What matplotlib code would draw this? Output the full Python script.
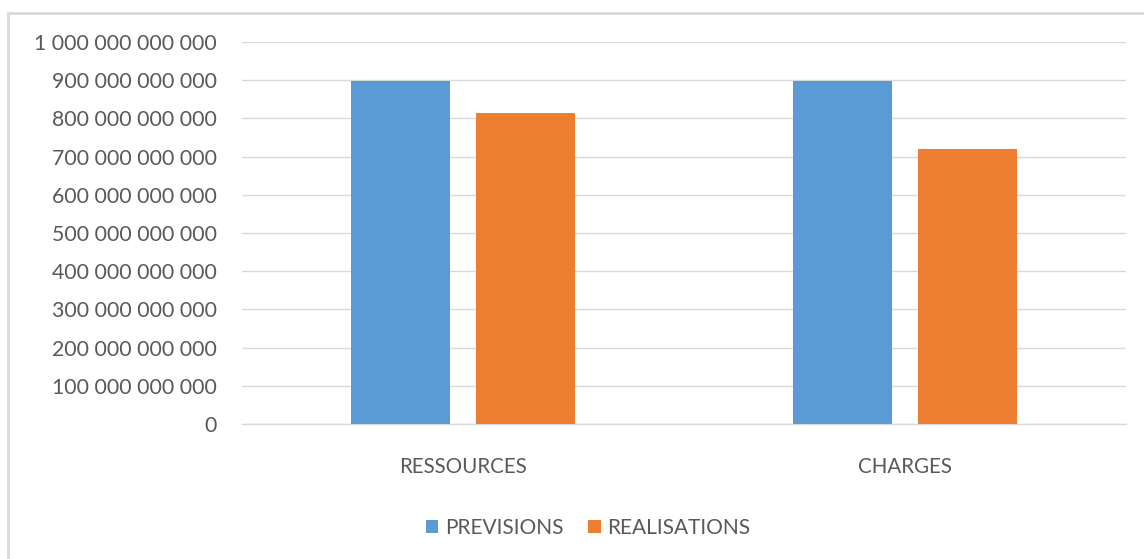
import matplotlib
matplotlib.use("Agg")
import matplotlib.pyplot as plt
import matplotlib.patches as patches
from matplotlib.ticker import FuncFormatter
import numpy as np

categories = ["RESSOURCES", "CHARGES"]
previsions = [898e9, 898e9]
realisations = [813e9, 719e9]
series_names = ["PREVISIONS", "REALISATIONS"]
colors = ["#5b9bd5", "#ed7d31"]
text_color = "#595959"

plt.rcParams['font.family'] = ['Lato', 'DejaVu Sans']

fig = plt.figure(figsize=(11.44, 5.59), dpi=100)
ax = fig.add_axes([242 / 1144, 1 - 424 / 559, (1126 - 242) / 1144, (424 - 42) / 559])

# outer chart border (only top and left visible in the reference)
fig.patches.append(patches.Rectangle((8 / 1144, -0.1), 1.2, 1 - 13 / 559 + 0.1,
                                     transform=fig.transFigure, fill=False,
                                     edgecolor="#d9d9d9", linewidth=2))

x = np.arange(len(categories))
w = 0.224
off = 0.1425
ax.bar(x - off, previsions, w, color=colors[0], label=series_names[0], zorder=3)
ax.bar(x + off, realisations, w, color=colors[1], label=series_names[1], zorder=3)

ax.set_xlim(-0.5, 1.5)
ax.set_ylim(0, 1e12)
ax.set_yticks(np.arange(0, 1.01e12, 1e11))


def fmt(v, pos):
    s = f"{int(round(v)):,}".replace(",", " ")
    return s


ax.yaxis.set_major_formatter(FuncFormatter(fmt))
ax.grid(axis="y", color="#d9d9d9", linewidth=1, zorder=0)
ax.axhline(0, color="#d9d9d9", linewidth=1, zorder=1, clip_on=False)
for s in ax.spines.values():
    s.set_visible(False)
ax.tick_params(axis="both", length=0, colors=text_color)
ax.tick_params(axis="y", pad=18, labelsize=15.3)
ax.tick_params(axis="x", pad=24, labelsize=14.8)
ax.set_xticks(x)
ax.set_xticklabels(categories)

leg = ax.legend(loc="center", bbox_to_anchor=(588 / 1144, 1 - 528 / 559),
                bbox_transform=fig.transFigure, ncol=2, frameon=False,
                fontsize=15, handlelength=0.6, handleheight=0.6,
                handletextpad=0.3, columnspacing=1.2)
for t in leg.get_texts():
    t.set_color(text_color)

fig.savefig("out.png", dpi=100, facecolor="white")
